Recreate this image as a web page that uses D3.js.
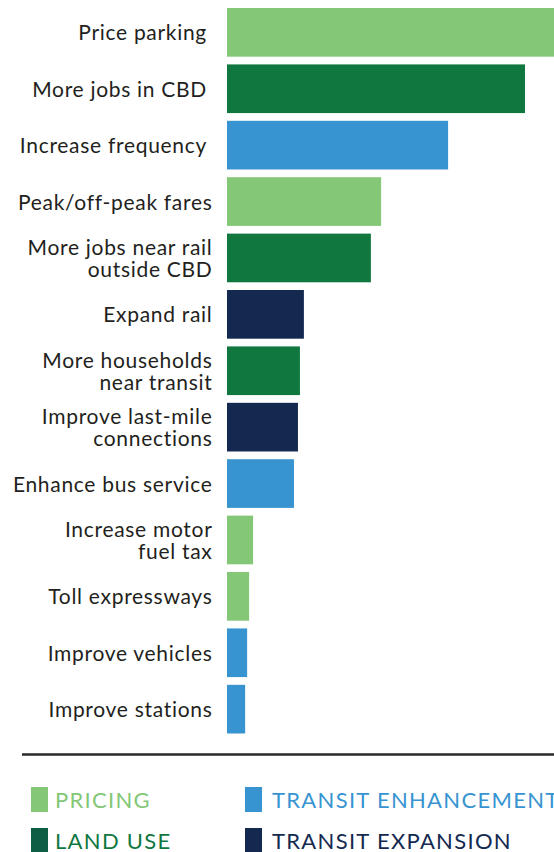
<!DOCTYPE html>
<html>
<head>
<meta charset="utf-8">
<script src="https://cdn.jsdelivr.net/npm/d3@7"></script>
<style>
  html, body { margin: 0; padding: 0; background: #fff; }
  svg { display: block; }
  text { font-family: Lato, "Open Sans", sans-serif; }
</style>
</head>
<body>
<svg id="chart" width="554" height="852"></svg>
<script>
// Strategies, ranked by estimated effect (arbitrary index units)
const strategies = [
  ["Price parking"],
  ["More jobs in CBD"],
  ["Increase frequency"],
  ["Peak/off-peak fares"],
  ["More jobs near rail", "outside CBD"],
  ["Expand rail"],
  ["More households", "near transit"],
  ["Improve last-mile", "connections"],
  ["Enhance bus service"],
  ["Increase motor", "fuel tax"],
  ["Toll expressways"],
  ["Improve vehicles"],
  ["Improve stations"]
];
const effects = [100, 90.3, 67, 46.7, 43.6, 23.3, 22.1, 21.5, 20.3, 7.9, 6.7, 6.1, 5.5];
const groups = ["Pricing", "Land use", "Transit enhancement", "Pricing", "Land use",
  "Transit expansion", "Land use", "Transit expansion", "Transit enhancement",
  "Pricing", "Pricing", "Transit enhancement", "Transit enhancement"];

// Legend order: two columns, two rows
const legendGroups = ["Pricing", "Land use", "Transit enhancement", "Transit expansion"];
const legendLabels = ["PRICING", "LAND USE", "TRANSIT ENHANCEMENT", "TRANSIT EXPANSION"];
const groupColors = ["#83c777", "#10773f", "#3894d1", "#14294f"];

const svg = d3.select("#chart");
const color = d3.scaleOrdinal().domain(legendGroups).range(groupColors);

const rows = d3.range(strategies.length);
const y = d3.scaleBand().domain(rows).range([8, 733.5]).paddingInner(0.137).paddingOuter(0);
const x = d3.scaleLinear().domain([0, 100]).range([227, 557]);

// Bars
svg.append("g").selectAll("rect")
  .data(rows)
  .join("rect")
  .attr("x", x(0))
  .attr("y", i => y(i))
  .attr("width", i => x(effects[i]) - x(0))
  .attr("height", y.bandwidth())
  .attr("fill", i => color(groups[i]));

// Category labels, right-aligned against the bars
const labelX = 212.5;
const lineH = 21.7;
const labels = svg.append("g")
  .attr("font-size", 21)
  .attr("letter-spacing", 0.7)
  .attr("fill", "#231f20")
  .attr("text-anchor", "end");

// the first three labels sit a space-width further left
const trailing = new Set([0, 1, 2]);
rows.forEach(i => {
  const lines = strategies[i];
  const mid = y(i) + y.bandwidth() / 2;
  const first = mid + 8 - (lines.length - 1) * lineH / 2;
  const lx = trailing.has(i) ? labelX - 5.5 : labelX;
  lines.forEach((ln, k) => {
    labels.append("text")
      .attr("x", lx)
      .attr("y", first + k * lineH)
      .text(ln);
  });
});

// Divider
svg.append("line")
  .attr("x1", 22).attr("x2", 554)
  .attr("y1", 754.5).attr("y2", 754.5)
  .attr("stroke", "#2a2a2a")
  .attr("stroke-width", 2.5);

// Legend
const legendCols = [31, 245];
const legendTextGap = [24, 27];
const legendRows = [787, 828];
const legend = svg.append("g");
legendGroups.forEach((g, i) => {
  const col = Math.floor(i / 2);
  const cx = legendCols[col];
  const cy = legendRows[i % 2];
  legend.append("rect")
    .attr("x", cx).attr("y", cy)
    .attr("width", 17).attr("height", 25)
    .attr("fill", i === 1 ? "#0e5e45" : color(g));
  legend.append("text")
    .attr("x", cx + legendTextGap[col])
    .attr("y", cy + 21)
    .attr("font-size", 22)
    .attr("letter-spacing", 1.3)
    .attr("fill", color(g))
    .text(legendLabels[i]);
});
</script>
</body>
</html>
